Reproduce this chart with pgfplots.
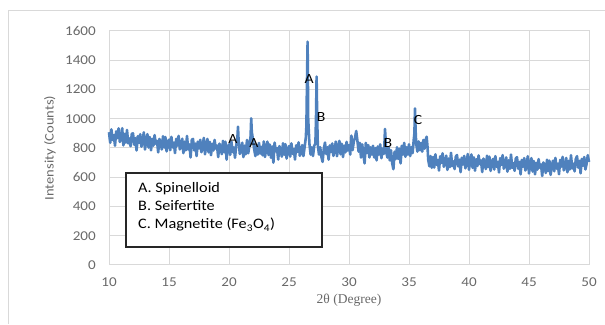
\documentclass[border=0pt]{standalone}
\usepackage{fontspec}
\setmainfont{Carlito}[FakeStretch=1.12]
\newfontfamily\serifx{Liberation Serif}
\usepackage{pgfplots}
\pgfplotsset{compat=1.18}
\definecolor{gridgray}{RGB}{217,217,217}
\definecolor{labelgray}{RGB}{105,105,105}
\definecolor{lineblue}{RGB}{79,129,189}
\begin{document}
\begin{tikzpicture}[x=1pt,y=1pt]
\useasboundingbox (0,0) rectangle (605,324);
\draw[gridgray, line width=1pt] (8,0) -- (8,313) -- (606,313);
\begin{axis}[
  at={(109pt,59pt)}, anchor=south west,
  scale only axis, width=480pt, height=234pt,
  xmin=10, xmax=50, ymin=0, ymax=1600,
  xtick={10,15,...,50}, ytick={0,200,...,1600},
  grid=major,
  major grid style={draw=gridgray, line width=1pt},
  axis line style={draw=gridgray, line width=1pt},
  tick style={draw=none},
  /pgf/number format/assume math mode=true,
  /pgf/number format/1000 sep={},
  ticklabel style={text=labelgray, font=\fontsize{13.5}{15}\selectfont, inner sep=0pt},
  xticklabel style={anchor=base, yshift=-21.5pt},
  yticklabel style={anchor=base east, xshift=-13pt, yshift=-4.5pt},
  xlabel={\serifx 2θ (Degree)},
  ylabel={Intensity (Counts)},
  xlabel style={at={(rel axis cs:0.5,-0.15)}, anchor=center, text=labelgray, font=\fontsize{13.5}{15}\selectfont, inner sep=0pt},
  ylabel style={at={(rel axis cs:-0.123,0.5)}, anchor=center, rotate=0, text=labelgray, font=\fontsize{13}{15}\selectfont, inner sep=0pt},
  clip=false,
]
\addplot[lineblue, line width=2.6pt, line join=round] coordinates {
(10.0,908)(10.1,836)(10.2,927)(10.3,855)(10.4,888)(10.5,816)(10.6,914)(10.7,868)(10.8,934)(10.9,842)
(11.0,857)(11.1,935)(11.2,818)(11.3,896)(11.4,837)(11.5,923)(11.6,832)(11.7,865)(11.8,812)(11.9,897)
(12.0,900)(12.1,822)(12.2,868)(12.3,783)(12.4,881)(12.5,835)(12.6,894)(12.7,809)(12.8,848)(12.9,907)
(13.0,790)(13.1,849)(13.2,895)(13.3,803)(13.4,875)(13.5,784)(13.6,862)(13.7,816)(13.8,888)(13.9,829)
(14.0,849)(14.1,770)(14.2,862)(14.3,836)(14.4,790)(14.5,881)(14.6,803)(14.7,875)(14.8,777)(14.9,842)
(15.0,857)(15.1,785)(15.2,876)(15.3,804)(15.4,837)(15.5,765)(15.6,863)(15.7,817)(15.8,883)(15.9,791)
(16.0,804)(16.1,863)(16.2,765)(16.3,843)(16.4,784)(16.5,882)(16.6,791)(16.7,824)(16.8,735)(16.9,856)
(17.0,862)(17.1,784)(17.2,830)(17.3,745)(17.4,843)(17.5,797)(17.6,856)(17.7,771)(17.8,810)(17.9,869)
(18.0,757)(18.1,816)(18.2,862)(18.3,770)(18.4,842)(18.5,751)(18.6,829)(18.7,783)(18.8,855)(18.9,796)
(19.0,817)(19.1,738)(19.2,830)(19.3,804)(19.4,758)(19.5,849)(19.6,771)(19.7,843)(19.8,720)(19.9,810)
(20.0,825)(20.1,753)(20.2,844)(20.3,772)(20.4,805)(20.5,733)(20.6,815)(20.7,870)(20.75,946)(20.8,850)(20.9,760)
(21.0,777)(21.1,836)(21.2,738)(21.3,816)(21.4,757)(21.5,855)(21.6,764)(21.7,815)(21.8,880)(21.85,1003)(21.9,910)
(22.0,855)(22.1,790)(22.2,745)(22.3,820)(22.4,755)(22.5,835)(22.6,762)(22.7,808)(22.8,750)(22.9,845)
(23.0,739)(23.1,798)(23.2,844)(23.3,752)(23.4,824)(23.5,733)(23.6,811)(23.7,700)(23.8,837)(23.9,778)
(24.0,800)(24.1,721)(24.2,813)(24.3,787)(24.4,741)(24.5,832)(24.6,754)(24.7,826)(24.8,728)(24.9,793)
(25.0,813)(25.1,741)(25.2,832)(25.3,760)(25.4,793)(25.5,721)(25.6,819)(25.7,773)(25.8,839)(25.9,747)
(26.0,765)(26.1,820)(26.2,745)(26.3,805)(26.4,870)(26.45,950)(26.5,1260)(26.55,1527)(26.6,1000)(26.7,830)(26.8,755)(26.9,805)
(27.0,745)(27.1,815)(27.2,830)(27.25,1000)(27.3,1288)(27.35,1000)(27.4,820)(27.5,755)(27.6,805)(27.7,740)(27.8,705)(27.9,795)
(28.0,837)(28.1,759)(28.2,805)(28.3,720)(28.4,818)(28.5,772)(28.6,831)(28.7,746)(28.8,785)(28.9,844)
(29.0,744)(29.1,803)(29.2,849)(29.3,757)(29.4,829)(29.5,738)(29.6,816)(29.7,770)(29.8,842)(29.9,783)
(30.0,820)(30.1,755)(30.2,885)(30.3,785)(30.4,845)(30.5,870)(30.6,916)(30.7,850)(30.8,775)(30.9,835)
(31.0,735)(31.1,825)(31.2,755)(31.3,695)(31.4,835)(31.5,765)(31.6,820)(31.7,735)(31.8,805)(31.9,755)
(32.0,815)(32.1,735)(32.2,800)(32.3,715)(32.4,810)(32.5,755)(32.6,825)(32.7,730)(32.8,795)(32.9,760)
(32.95,820)(33.0,930)(33.05,860)(33.1,775)(33.2,735)(33.3,805)(33.4,715)(33.5,785)(33.6,695)(33.7,655)(33.8,775)(33.9,725)
(34.0,805)(34.1,725)(34.2,795)(34.3,695)(34.4,815)(34.5,755)(34.6,835)(34.7,740)(34.8,805)(34.9,755)
(35.0,825)(35.1,745)(35.2,805)(35.3,765)(35.4,860)(35.45,900)(35.5,1071)(35.55,920)(35.6,830)(35.7,775)(35.8,845)(35.9,785)
(36.0,835)(36.1,775)(36.2,855)(36.3,795)(36.4,860)(36.47,877)(36.55,800)(36.6,720)(36.7,675)(36.8,745)(36.9,665)
(37.0,738)(37.1,666)(37.2,757)(37.3,685)(37.4,718)(37.5,646)(37.6,744)(37.7,698)(37.8,764)(37.9,672)
(38.0,689)(38.1,748)(38.2,650)(38.3,728)(38.4,669)(38.5,767)(38.6,676)(38.7,709)(38.8,656)(38.9,741)
(39.0,752)(39.1,674)(39.2,720)(39.3,635)(39.4,733)(39.5,687)(39.6,746)(39.7,661)(39.8,700)(39.9,759)
(40.0,651)(40.1,710)(40.2,756)(40.3,664)(40.4,736)(40.5,645)(40.6,723)(40.7,677)(40.8,749)(40.9,690)
(41.0,715)(41.1,636)(41.2,728)(41.3,702)(41.4,656)(41.5,747)(41.6,669)(41.7,741)(41.8,643)(41.9,708)
(42.0,725)(42.1,653)(42.2,744)(42.3,672)(42.4,705)(42.5,633)(42.6,731)(42.7,685)(42.8,751)(42.9,659)
(43.0,677)(43.1,736)(43.2,638)(43.3,716)(43.4,657)(43.5,755)(43.6,664)(43.7,697)(43.8,644)(43.9,729)
(44.0,737)(44.1,659)(44.2,705)(44.3,620)(44.4,718)(44.5,672)(44.6,731)(44.7,646)(44.8,685)(44.9,744)
(45.0,626)(45.1,685)(45.2,731)(45.3,639)(45.4,711)(45.5,620)(45.6,698)(45.7,652)(45.8,724)(45.9,665)
(46.0,688)(46.1,609)(46.2,701)(46.3,675)(46.4,629)(46.5,720)(46.6,642)(46.7,714)(46.8,616)(46.9,681)
(47.0,713)(47.1,641)(47.2,732)(47.3,660)(47.4,693)(47.5,621)(47.6,719)(47.7,673)(47.8,739)(47.9,647)
(48.0,673)(48.1,732)(48.2,634)(48.3,712)(48.4,653)(48.5,751)(48.6,660)(48.7,693)(48.8,640)(48.9,725)
(49.0,744)(49.1,666)(49.2,712)(49.3,627)(49.4,725)(49.5,679)(49.6,738)(49.7,653)(49.8,692)(49.9,751)
(50.0,705)
};
\begin{scope}[font=\fontsize{14}{16}\selectfont]
\node at (axis cs:20.33,862) {A};
\node at (axis cs:22.08,834) {A};
\node at (axis cs:26.67,1272) {A};
\node at (axis cs:27.67,1012) {B};
\node at (axis cs:33.25,834) {B};
\node at (axis cs:35.75,992) {C};
\end{scope}
\end{axis}
\draw[black!85, line width=1.2pt, fill=white] (126,77) rectangle (322,151);
\begin{scope}[font=\fontsize{14.5}{16}\selectfont]
\node[anchor=base west, inner sep=0pt] at (138,131.3) {A. Spinelloid};
\node[anchor=base west, inner sep=0pt] at (138,113.3) {B. Seifertite};
\node[anchor=base west, inner sep=0pt] at (138,95) {C. Magnetite (Fe\textsubscript{3}O\textsubscript{4})};
\end{scope}
\end{tikzpicture}
\end{document}
